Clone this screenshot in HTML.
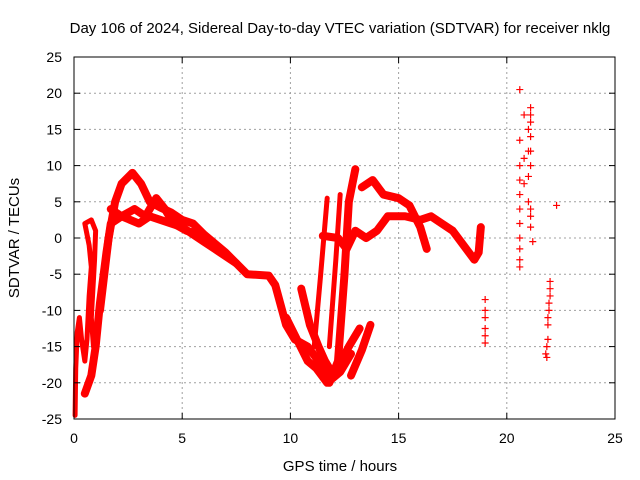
<!DOCTYPE html>
<html><head><meta charset="utf-8"><style>
body{margin:0;background:#fff}
svg{display:block;font-family:"Liberation Sans",sans-serif}
</style></head><body>
<svg id="chart" width="640" height="480">
<text x="340" y="33" text-anchor="middle" font-size="15">Day 106 of 2024, Sidereal Day-to-day VTEC variation (SDTVAR) for receiver nklg</text>
<text x="340" y="471" text-anchor="middle" font-size="15">GPS time / hours</text>
<text transform="translate(19,238) rotate(-90)" text-anchor="middle" font-size="15">SDTVAR / TECUs</text>
<g id="grid"></g><g id="marks"></g><g id="axes"></g>
</svg>
<script>
const xTicks=[0,5,10,15,20,25];
const yTicks=[25,20,15,10,5,0,-5,-10,-15,-20,-25];
const traceA=[[1.2,-10],[1.4,-5],[1.6,0],[1.9,5],[2.2,7.5],[2.7,9],[3.1,7.5],[3.5,5],[4,4.2],[4.5,3.5],[5,2.5],[5.5,2],[6,0.5],[7,-2],[7.5,-3.5],[8,-5],[9,-5.2],[9.3,-6.5],[9.8,-12],[10.2,-14],[10.8,-15],[11.3,-17],[11.8,-20],[12.2,-17],[12.5,-5],[12.7,5],[13,9.5]];
const traceB=[[0.5,-21.5],[0.8,-19],[1.0,-15],[1.2,-9],[1.5,-2],[1.7,2],[2.2,3],[2.6,2.5],[3,2],[3.5,3],[4,2.5],[4.5,2],[5,1.5],[5.5,0.5],[6,-0.5],[6.5,-1.5],[7.5,-3.5]];
const traceC=[[1.7,4],[2.2,3],[2.8,4],[3.3,3],[3.8,5.5],[4.2,4],[4.6,2],[5.2,1],[5.8,0.5]];
const traceD=[[9.8,-11],[10.3,-14],[10.8,-17],[11.2,-18],[11.7,-20],[12.3,-18.5],[12.8,-16]];
const traceE=[[10.5,-7],[10.9,-12],[11.3,-15],[11.6,-17],[12,-19],[12.7,-15],[13.2,-12.5]];
const traceF=[[12.8,-19],[13.3,-15.5],[13.7,-12]];
const traceG=[[11.5,0.3],[12.2,0],[12.6,-1.5],[13,1],[13.5,0],[14,1],[14.5,3],[15.3,3],[16,2.5],[16.5,3],[17,2],[17.5,1],[18,-1],[18.5,-3],[18.7,-2],[18.8,1.5]];
const traceH=[[13.3,7],[13.8,8],[14.3,6],[15,5.5],[15.5,4.5],[16,1.5],[16.3,-1.5]];
const rise1=[[11.1,-15],[11.4,-5],[11.6,2],[11.7,5.5]];
const rise2=[[11.8,-15],[12.1,-3],[12.3,6]];
const left1=[[0.05,-24.5],[0.08,-18],[0.15,-13],[0.25,-11],[0.35,-14],[0.5,-17],[0.6,-14],[0.7,-8],[0.8,-4],[0.7,-1],[0.5,2],[0.8,2.5],[1,1],[0.95,-3],[0.8,-11],[0.9,-15]];
const scatter=[[19,-8.5],[19,-10],[19,-11],[19,-12.5],[19,-13.5],[19,-14.5],[20.6,20.5],[20.6,13.5],[20.6,10],[20.6,8],[20.6,6],[20.6,4],[20.6,2],[20.6,0],[20.6,-1.5],[20.6,-3],[20.6,-4],[20.8,17],[20.8,11],[20.8,7.5],[21,15],[21,12],[21,8.5],[21,5],[21.1,18],[21.1,17],[21.1,16],[21.1,14],[21.1,12],[21.1,10],[21.1,4],[21.1,3],[21.1,1.5],[21.2,-0.5],[22.3,4.5],[22,-6],[22,-7],[22,-8],[21.95,-9],[21.95,-10],[21.9,-11],[21.9,-12],[21.9,-14],[21.85,-15],[21.85,-16.5],[21.8,-16]];
const X0=74,X1=615,Y0=419,Y1=57;
const xs=v=>X0+(v-0)/(25-0)*(X1-X0);
const ys=v=>Y0-(v+25)/50*(Y0-Y1);
const NS='http://www.w3.org/2000/svg';
function mk(t,a,p){const e=document.createElementNS(NS,t);for(const k in a)e.setAttribute(k,a[k]);p.appendChild(e);return e;}
const grid=document.getElementById('grid'),marks=document.getElementById('marks'),axes=document.getElementById('axes');
xTicks.forEach(t=>{const x=xs(t);
 if(t>0&&t<25){const l=mk('line',{x1:x,x2:x,y1:Y1,y2:Y0,stroke:'#a0a0a0','stroke-dasharray':'2,3'},grid);
 }
 mk('line',{x1:x,x2:x,y1:Y0,y2:Y0-6,stroke:'#000'},axes);mk('line',{x1:x,x2:x,y1:Y1,y2:Y1+6,stroke:'#000'},axes);
 const tx=mk('text',{x:x,y:443,'text-anchor':'middle','font-size':14},axes);tx.textContent=t;
 });
yTicks.forEach(t=>{const y=ys(t);
 if(t>-25&&t<25){const l=mk('line',{x1:X0,x2:X1,y1:y,y2:y,stroke:'#a0a0a0','stroke-dasharray':'2,3'},grid);
 }
 mk('line',{x1:X0,x2:X0+6,y1:y,y2:y,stroke:'#000'},axes);mk('line',{x1:X1,x2:X1-6,y1:y,y2:y,stroke:'#000'},axes);
 const tx=mk('text',{x:62,y:y+5,'text-anchor':'end','font-size':14},axes);tx.textContent=t;
 });
const fr=mk('rect',{x:X0,y:Y1,width:X1-X0,height:Y0-Y1,fill:'none',stroke:'#000'},axes);

const traces={traceA,traceB,traceC,traceD,traceE,traceF,traceG,traceH,rise1,rise2,left1};
for(const n in traces){const d=traces[n];
 const p=mk('polyline',{points:d.map(q=>xs(q[0])+','+ys(q[1])).join(' '),fill:'none',stroke:'#f00','stroke-width':n.startsWith('rise')||n==='left1'?5:8,'stroke-linejoin':'round','stroke-linecap':'round'},marks);
 }
scatter.forEach(q=>{const x=xs(q[0]),y=ys(q[1]);
 const p=mk('path',{d:`M${x-3.5},${y}h7M${x},${y-3.5}v7`,stroke:'#f00','stroke-width':1.2},marks);
 });
</script>
</body></html>
